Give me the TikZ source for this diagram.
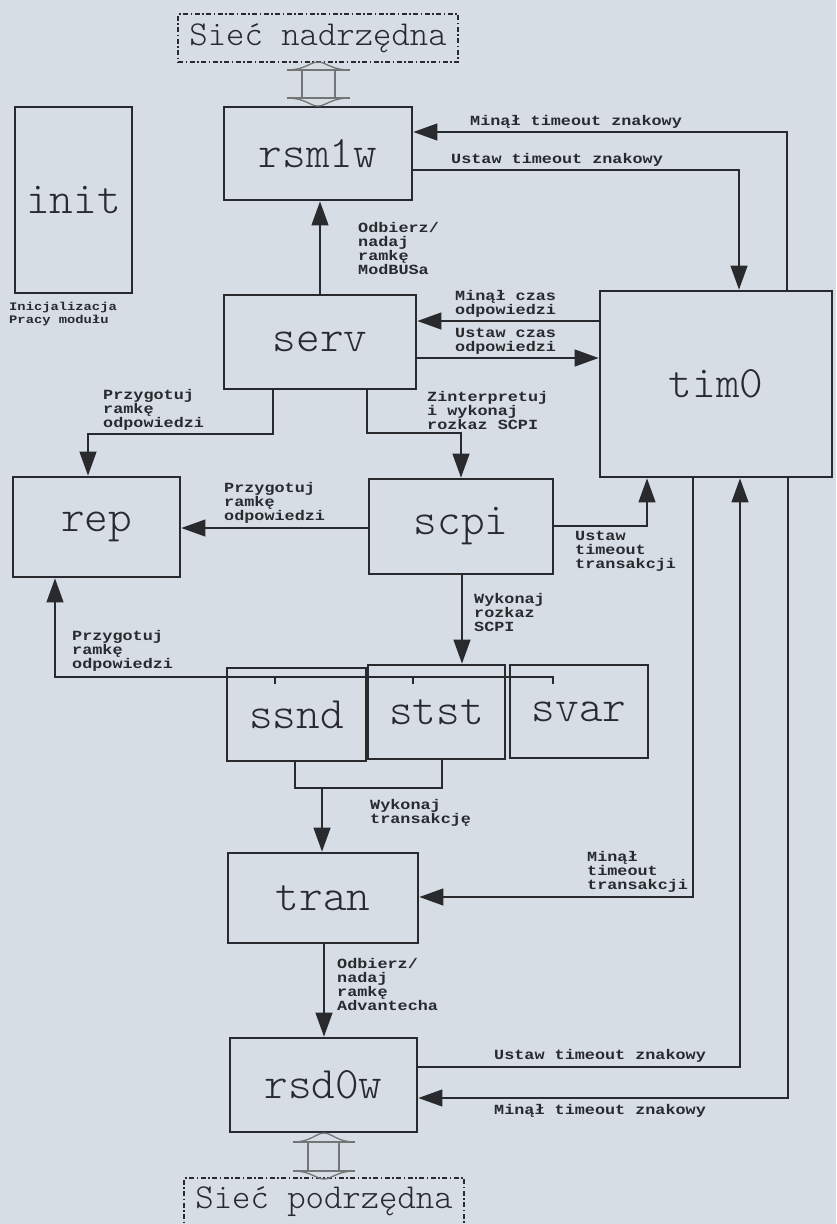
\documentclass[tikz,border=0pt]{standalone}
\usepackage{fontspec}
\newfontfamily\boxfont{Latin Modern Mono Light}
\newfontfamily\lblfont{Liberation Mono}[FakeStretch=1.2]
\usetikzlibrary{arrows.meta}

\begin{document}
\begin{tikzpicture}[
  x=1pt, y=-1pt,
  >={Triangle[length=24pt,width=17pt]},
  proc/.style={draw=ink, line width=2.8pt, inner sep=0pt, text=ink, font=\boxfont\fontsize{45}{46}\selectfont},
  net/.style={draw=ink, line width=1.4pt, dash pattern=on 5pt off 2.5pt on 1.5pt off 2.5pt, inner sep=0pt, minimum width=280pt, minimum height=48pt, text=ink, font=\boxfont\fontsize{35}{36}\selectfont},
  lbl/.style={inner sep=0pt, align=left, text=ink, font=\lblfont\bfseries\fontsize{14}{14}\selectfont},
  conn/.style={->, draw=ink, line width=1.2pt},
  link/.style={draw=ink, line width=1.2pt},
  hollow/.style={draw=ink!65, line width=1.3pt}
]

\definecolor{ink}{RGB}{40,42,46}
\definecolor{paper}{RGB}{214,221,229}

\useasboundingbox (0,0) rectangle (836,1224);
\fill[paper] (0,0) rectangle (836,1224);

% networks
\node[net] (netup) at (318,38) {Sieć nadrzędna};
\node[net] (netdown) at (324,1202) {Sieć podrzędna};

% processes
\node[proc, minimum width=117pt, minimum height=186pt] (init) at (73.5,200) {init};
\node[proc, minimum width=188pt, minimum height=93pt] (rsm1w) at (318,153.5) {rsm1w};
\node[proc, minimum width=192pt, minimum height=94pt] (serv) at (320,342) {serv};
\node[proc, minimum width=232pt, minimum height=186pt] (tim0) at (716,384) {tim0};
\node[proc, minimum width=167pt, minimum height=100pt] (rep) at (96.5,527) {rep};
\node[proc, minimum width=184pt, minimum height=95pt] (scpi) at (461,526.5) {scpi};
\node[proc, minimum width=139pt, minimum height=93pt] (ssnd) at (296.5,714.5) {ssnd};
\node[proc, minimum width=137pt, minimum height=94pt] (stst) at (436.5,712) {stst};
\node[proc, minimum width=138pt, minimum height=93pt] (svar) at (579,711.5) {svar};
\node[proc, minimum width=190pt, minimum height=90pt] (tran) at (323,898) {tran};
\node[proc, minimum width=187pt, minimum height=94pt] (rsd0w) at (323.5,1085) {rsd0w};

\node[anchor=north west, inner sep=0pt, align=left, text=ink, font=\lblfont\bfseries\fontsize{11.5}{13}\selectfont] (initnote) at (9,302) {Inicjalizacja\\Pracy modułu};

% hollow double arrows to the networks
\draw[hollow] (287,70) -- (350,70) (287,98) -- (350,98) (302,70) -- (302,98) (335,70) -- (335,98);
\draw[hollow] (287,70) .. controls (305,70) and (310,62) .. (318,62) .. controls (326,62) and (331,70) .. (350,70);
\draw[hollow] (287,98) .. controls (305,98) and (310,106) .. (318,106) .. controls (326,106) and (331,98) .. (350,98);
\draw[hollow] (293,1142) -- (355,1142) (293,1171) -- (355,1171) (308,1142) -- (308,1171) (339,1142) -- (339,1171);
\draw[hollow] (293,1142) .. controls (311,1142) and (316,1133) .. (324,1133) .. controls (332,1133) and (337,1142) .. (355,1142);
\draw[hollow] (293,1171) .. controls (311,1171) and (316,1179) .. (324,1179) .. controls (332,1179) and (337,1171) .. (355,1171);

% serv <-> rsm1w
\draw[conn] (serv.north) -- (serv.north |- rsm1w.south);
\node[lbl, anchor=north west] (lmod) at (358,222) {Odbierz/\\nadaj\\ramkę\\ModBUSa};

% rsm1w <-> tim0
\draw[conn] (tim0.north -| 787,0) |- (rsm1w.east |- 0,132);
\node[lbl, anchor=south west] (lmin1) at (470,129) {Minął timeout znakowy};
\draw[conn] (rsm1w.east |- 0,170) -| (tim0.north -| 739,0);
\node[lbl, anchor=south west] (lust1) at (451,167) {Ustaw timeout znakowy};

% serv <-> tim0
\draw[conn] (tim0.west |- 0,321) -- (serv.east |- 0,321);
\node[lbl, anchor=south west] (lmin2) at (455,318) {Minął czas\\odpowiedzi};
\draw[conn] (serv.east |- 0,358) -- (tim0.west |- 0,358);
\node[lbl, anchor=south west] (lust2) at (455,355) {Ustaw czas\\odpowiedzi};

% serv -> scpi, serv -> rep
\draw[conn] (serv.south -| 367,0) |- (scpi.north |- 0,433) -- (scpi.north);
\node[lbl, anchor=south west] (lzin) at (427,430) {Zinterpretuj\\i wykonaj\\rozkaz SCPI};
\draw[conn] (serv.south -| 273,0) -- (273,434) -| (rep.north -| 88,0);
\node[lbl, anchor=south west] (lprz1) at (103,431) {Przygotuj\\ramkę\\odpowiedzi};

% scpi -> rep, scpi -> tim0, scpi -> stst
\draw[conn] (scpi.west |- 0,528) -- (rep.east |- 0,528);
\node[lbl, anchor=south west] (lprz2) at (224,524) {Przygotuj\\ramkę\\odpowiedzi};
\draw[conn] (scpi.east |- 0,526) -| (tim0.south -| 647,0);
\node[lbl, anchor=north west] (lust3) at (575,531) {Ustaw\\timeout\\transakcji};
\draw[conn] (scpi.south -| 462,0) -- (stst.north -| 462,0);
\node[lbl, anchor=north west] (lwyk1) at (474,593) {Wykonaj\\rozkaz\\SCPI};

% ssnd, stst, svar -> rep
\draw[conn] (553,684) -- (553,677) -| (rep.south -| 55,0);
\draw[link] (275,684) -- (275,677);
\draw[link] (413,684) -- (413,677);
\node[lbl, anchor=south west] (lprz3) at (72,672) {Przygotuj\\ramkę\\odpowiedzi};

% ssnd, stst -> tran
\draw[link] (ssnd.south -| 295,0) -- (295,788) -| (stst.south -| 442,0);
\draw[conn] (322,788) -- (tran.north -| 322,0);
\node[lbl, anchor=north west] (lwyk2) at (370,799) {Wykonaj\\transakcję};

% tim0 -> tran
\draw[conn] (tim0.south -| 693,0) |- (tran.east |- 0,897);
\node[lbl, anchor=south west] (lmin3) at (587,893) {Minął\\timeout\\transakcji};

% tran -> rsd0w
\draw[conn] (tran.south -| 324,0) -- (rsd0w.north -| 324,0);
\node[lbl, anchor=north west] (ladv) at (337,958) {Odbierz/\\nadaj\\ramkę\\Advantecha};

% rsd0w <-> tim0
\draw[conn] (rsd0w.east |- 0,1067) -| (tim0.south -| 740,0);
\node[lbl, anchor=south west] (lust4) at (494,1063) {Ustaw timeout znakowy};
\draw[conn] (tim0.south -| 788,0) |- (rsd0w.east |- 0,1098);
\node[lbl, anchor=north west] (lmin4) at (494,1104) {Minął timeout znakowy};

\end{tikzpicture}
\end{document}
